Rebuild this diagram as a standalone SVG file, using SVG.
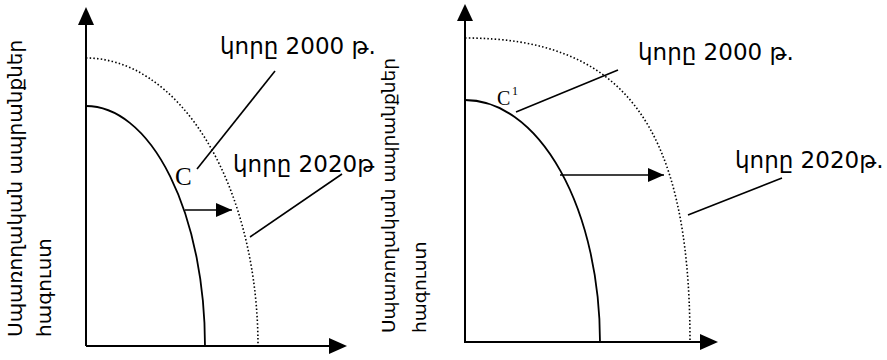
<svg xmlns="http://www.w3.org/2000/svg" width="887" height="360" viewBox="0 0 887 360">
<style>
.ax{stroke:#000;stroke-width:2;fill:none}
.cv{stroke:#000;stroke-width:1.8;fill:none}
.dt{stroke:#000;stroke-width:1.6;fill:none;stroke-dasharray:1.5 2.2}
.ld{stroke:#000;stroke-width:1.6;fill:none}
.t{font-family:"DejaVu Sans","Noto Sans",sans-serif;font-size:23px;fill:#000}
.v{font-family:"DejaVu Sans","Noto Sans",sans-serif;font-size:20px;fill:#000}
.v2{font-family:"DejaVu Sans","Noto Sans",sans-serif;font-size:18.5px;fill:#000}
.c{font-family:"Liberation Serif","Times New Roman",serif;fill:#000}
</style>
<defs>
<marker id="ah" markerWidth="16" markerHeight="14" refX="16" refY="7" orient="auto" markerUnits="userSpaceOnUse" viewBox="0 0 16 14"><path d="M0,0 L16,7 L0,14 z" fill="#000"/></marker>
</defs>
<g id="left-axes">
<path class="ax" d="M86,346 L86,24"/><path d="M78,25 L86,7 L94,25 z"/>
<path class="ax" d="M86,346 L330,346"/><path d="M329,338 L347,346 L329,354 z"/>
</g>
<g id="left-curves">
<path class="cv" d="M86,106 A119,240 0 0 1 205,346"/>
<path class="dt" d="M86,58 A172,288 0 0 1 258,346"/>
</g>
<g id="left-labels">
<text class="v" transform="translate(22,337) rotate(-90)">Սպառողական ապրանքներ</text>
<text class="v" transform="translate(51,337) rotate(-90)">հագուստ</text>
<text class="t" x="220" y="54">կորը 2000 թ.</text>
<text class="t" x="233" y="172">կորը 2020թ</text>
<text class="c" x="175" y="185" font-size="25">C</text>
</g>
<g id="right-axes">
<path class="ax" d="M465,343 L465,20"/><path d="M457,21 L465,4 L473,21 z"/>
<path class="ax" d="M465,342 L700,342"/><path d="M700,334 L718,342 L700,350 z"/>
</g>
<g id="right-curves">
<path class="cv" d="M465,100 A135,242 0 0 1 600,342"/>
<path class="dt" d="M465,38 C620,38 690,120 690,342"/>
</g>
<g id="right-labels">
<text class="v2" transform="translate(395,333) rotate(-90)">Սպառողական ապրանքներ</text>
<text class="v2" transform="translate(426,333) rotate(-90)">հագուստ</text>
<text class="t" x="638" y="60">կորը 2000 թ.</text>
<text class="t" x="735" y="168">կորը 2020թ.</text>
<text class="c" x="497" y="105" font-size="20">C</text>
<text class="c" x="512" y="95" font-size="12">1</text>
</g>
<g id="connectors">
<path class="ld" d="M197,169 L275,71"/>
<path class="ld" d="M250,237 L342,174"/>
<path class="ld" d="M516,112 L618,70"/>
<path class="ld" d="M688,215 L782,178"/>
<path class="ld" d="M185,210 L232,210" marker-end="url(#ah)"/>
<path class="ld" d="M560,175 L664,175" marker-end="url(#ah)"/>
</g>
</svg>
